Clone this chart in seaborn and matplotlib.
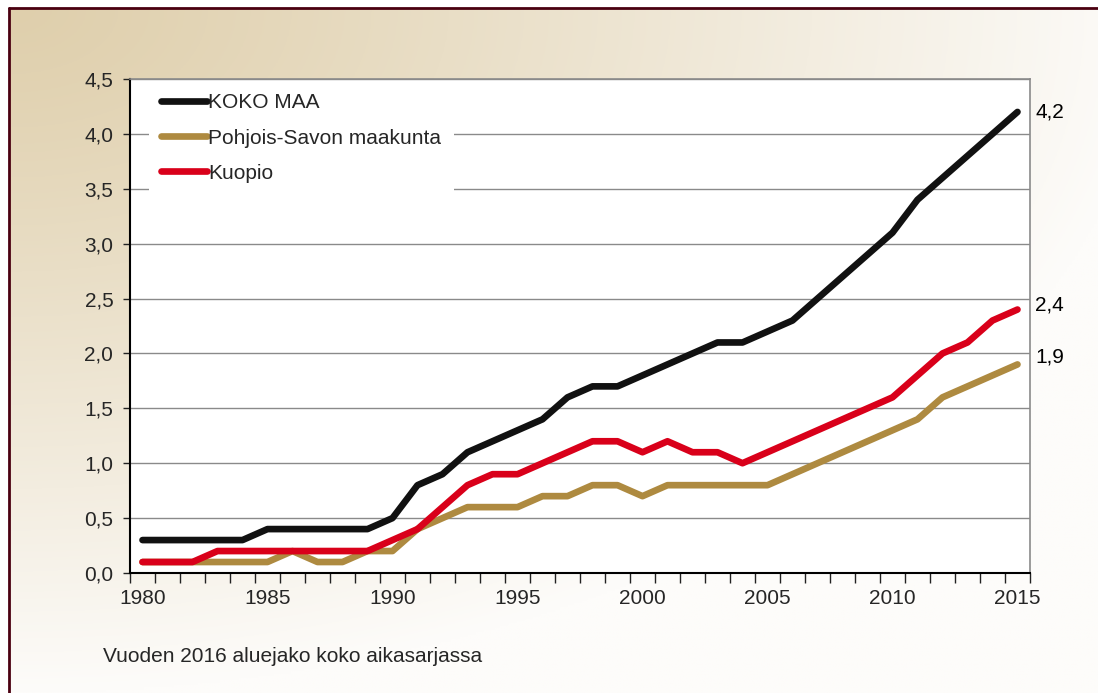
import numpy as np
import pandas as pd
import matplotlib.pyplot as plt
from matplotlib.lines import Line2D
import seaborn as sns

# data
years = list(range(1980, 2016))
koko_maa = [0.3, 0.3, 0.3, 0.3, 0.3, 0.4, 0.4, 0.4, 0.4, 0.4,
            0.5, 0.8, 0.9, 1.1, 1.2, 1.3, 1.4, 1.6, 1.7, 1.7,
            1.8, 1.9, 2.0, 2.1, 2.1, 2.2, 2.3, 2.5, 2.7, 2.9,
            3.1, 3.4, 3.6, 3.8, 4.0, 4.2]
pohjois_savo = [0.1, 0.1, 0.1, 0.1, 0.1, 0.1, 0.2, 0.1, 0.1, 0.2,
                0.2, 0.4, 0.5, 0.6, 0.6, 0.6, 0.7, 0.7, 0.8, 0.8,
                0.7, 0.8, 0.8, 0.8, 0.8, 0.8, 0.9, 1.0, 1.1, 1.2,
                1.3, 1.4, 1.6, 1.7, 1.8, 1.9]
kuopio = [0.1, 0.1, 0.1, 0.2, 0.2, 0.2, 0.2, 0.2, 0.2, 0.2,
          0.3, 0.4, 0.6, 0.8, 0.9, 0.9, 1.0, 1.1, 1.2, 1.2,
          1.1, 1.2, 1.1, 1.1, 1.0, 1.1, 1.2, 1.3, 1.4, 1.5,
          1.6, 1.8, 2.0, 2.1, 2.3, 2.4]
names = ["KOKO MAA", "Pohjois-Savon maakunta", "Kuopio"]
colors = ["#111111", "#AE8A40", "#D9001A"]
yticks = [0.0, 0.5, 1.0, 1.5, 2.0, 2.5, 3.0, 3.5, 4.0, 4.5]
# baseline shift of the end labels, in data units
end_offsets = [-0.047, 0.013, -0.006]
note = "Vuoden 2016 aluejako koko aikasarjassa"

df = pd.DataFrame({
    "Vuosi": years * 3,
    "Arvo": koko_maa + pohjois_savo + kuopio,
    "Alue": [names[0]] * 36 + [names[1]] * 36 + [names[2]] * 36,
})

sns.set_theme(style="white")
plt.rcParams["font.family"] = ["Liberation Sans", "DejaVu Sans"]

W, H = 1098, 693
fig = plt.figure(figsize=(W / 100, H / 100), dpi=100, facecolor="white")

# background gradient inside the maroon frame
bg = fig.add_axes([9 / W, 0, 1 - 9 / W, 1 - 8 / H], zorder=-5)
gx, gy = np.meshgrid(np.linspace(0, 1, 400), np.linspace(0, 1, 300))
t = np.clip(np.sqrt((gx / 1.05) ** 2 + (gy / 1.0) ** 2), 0, 1) ** 1.15
tan = np.array([223, 207, 172]) / 255
white = np.array([253, 252, 250]) / 255
img = tan[None, None, :] * (1 - t[..., None]) + white[None, None, :] * t[..., None]
bg.imshow(img, aspect="auto", extent=[0, 1, 0, 1], origin="upper")
bg.axis("off")
fig.add_artist(Line2D([9 / W, 1], [1 - 8 / H, 1 - 8 / H], color="#4A0010", lw=2))
fig.add_artist(Line2D([9 / W, 9 / W], [0, 1 - 8 / H], color="#4A0010", lw=2))

ax = fig.add_axes([130 / W, 1 - 573 / H, 900 / W, 494 / H])
ax.set_facecolor("white")
sns.lineplot(data=df, x="Vuosi", y="Arvo", hue="Alue", hue_order=names,
             palette=colors, linewidth=4.8, ax=ax, errorbar=None,
             solid_capstyle="round", solid_joinstyle="round")

ax.set_xlim(1979.5, 2015.5)
ax.set_ylim(0, 4.5)
ax.set_xticks(range(1980, 2016, 5))
ax.set_xticklabels([str(y) for y in range(1980, 2016, 5)])
ax.set_xticks(np.arange(1979.5, 2016, 1), minor=True)
ax.set_yticks(yticks)
ax.set_yticklabels([f"{v:.1f}".replace(".", ",") for v in yticks])
ax.tick_params(axis="x", which="major", length=0, pad=11.5, labelsize=15)
ax.tick_params(axis="x", which="minor", length=7, width=1, color="#222222",
               bottom=True, direction="out")
ax.tick_params(axis="y", length=5, width=1, color="#222222", left=True,
               direction="out", pad=7, labelsize=15)
ax.set_xlabel("")
ax.set_ylabel("")
ax.grid(axis="y", color="#8a8a8a", lw=1)
ax.set_axisbelow(True)
for side in ["left", "bottom"]:
    ax.spines[side].set_color("black")
    ax.spines[side].set_linewidth(1.5)
for side in ["top", "right"]:
    ax.spines[side].set_color("#8a8a8a")
    ax.spines[side].set_linewidth(1.2)

handles, labels = ax.get_legend_handles_labels()
for h in handles:
    h.set_linewidth(4.8)
    h.set_solid_capstyle("round")
leg = ax.legend(handles, labels, loc="upper left", bbox_to_anchor=(0.021, 0.996),
                fontsize=15, frameon=True, facecolor="white", edgecolor="none",
                framealpha=1, fancybox=False, borderpad=0.6, borderaxespad=0,
                handlelength=2.2, handletextpad=0.05, labelspacing=0.77)

for series, off in zip([koko_maa, pohjois_savo, kuopio], end_offsets):
    ax.text(1.0056, series[-1] + off, f"{series[-1]:.1f}".replace(".", ","),
            transform=ax.get_yaxis_transform(), ha="left", va="baseline",
            fontsize=15, color="black")

fig.text(103 / W, 1 - 657 / H, note, ha="left", va="center", fontsize=15)

fig.savefig("out.png", dpi=100, facecolor="white")
